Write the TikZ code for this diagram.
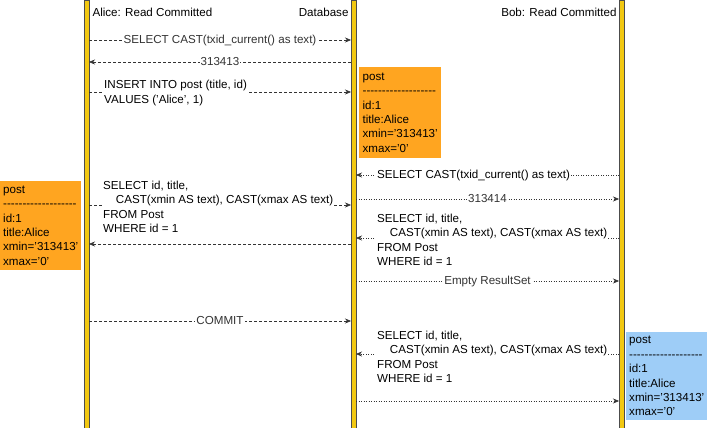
\documentclass[tikz,border=0pt]{standalone}
\usepackage{fontspec}
\setmainfont{Liberation Sans}
\usetikzlibrary{arrows.meta}
\definecolor{life}{HTML}{F2C811}
\definecolor{org}{HTML}{FFA520}
\definecolor{blu}{HTML}{9ECDF7}
\newcommand{\dashes}{-{}-{}-{}-{}-{}-{}-{}-{}-{}-{}-{}-{}-{}-{}-{}-{}-{}-{}-{}}
\newcommand{\sq}{\symbol{39}}
\begin{document}
\begin{tikzpicture}[x=1pt,y=-1pt,font=\fontsize{11.6}{14.4}\selectfont,
 life/.style={draw=black!70,fill=life,line width=0.6pt},
 msg/.style={-{Stealth[length=6pt,width=5pt]},black!80,line width=0.5pt},
 da/.style={msg,dash pattern=on 3pt off 2pt},
 dt/.style={msg,dash pattern=on 1pt off 1.5pt},
 lab/.style={fill=white,inner sep=1pt,align=left},
 note/.style={anchor=north west,align=left,inner sep=3pt,minimum height=0pt}]
\useasboundingbox (0,0) rectangle (707,428);
\fill[life] (84,0) rectangle (89,428);
\fill[life] (351,0) rectangle (356,428);
\fill[life] (619,0) rectangle (624,428);
\node[anchor=west] (ha) at (89,12) {Alice: Read Committed};
\node[anchor=east] (hd) at (352,12) {Database};
\node[anchor=east] (hb) at (620,12) {Bob: Read Committed};
\foreach \n/\y in {1/40,2/62,3/92,4/175,5/199,6/205,7/238,8/244,9/281,10/321,11/354,12/401}{
 \coordinate (A\n) at (89,\y); \coordinate (D\n) at (351,\y);
 \coordinate (Dr\n) at (356,\y); \coordinate (B\n) at (619,\y);}
\draw[da] (A1) -- node[lab] (l1) {SELECT CAST(txid\_current() as text)} (D1);
\draw[da] (D2) -- node[lab] (l2) {313413} (A2);
\draw[da] (A3) -- (D3);
\node[lab,anchor=west] (l3) at (103,93) {INSERT INTO post (title, id)\\VALUES (\sq Alice\sq, 1)};
\node[note,fill=org,minimum width=82pt,minimum height=91pt] (n1) at (359,67) {post\\\dashes\\id:1\\title:Alice\\xmin=\sq 313413\sq\\xmax=\sq 0\sq};
\draw[dt] (B4) -- (Dr4);
\node[lab,anchor=west] (l4) at (376,175) {SELECT CAST(txid\_current() as text)};
\draw[dt] (Dr5) -- node[lab] (l5) {313414} (B5);
\draw[da] (A6) -- (D6);
\node[lab,anchor=west] (l6) at (102,207) {SELECT id, title,\\\hspace*{1.1em}CAST(xmin AS text), CAST(xmax AS text)\\FROM Post\\WHERE id = 1};
\draw[dt] (B7) -- (Dr7);
\node[lab,anchor=west] (l7) at (376,240) {SELECT id, title,\\\hspace*{1.1em}CAST(xmin AS text), CAST(xmax AS text)\\FROM Post\\WHERE id = 1};
\draw[da] (D8) -- (A8);
\node[note,fill=org,minimum width=80pt,minimum height=89pt] (n2) at (0,181) {post\\\dashes\\id:1\\title:Alice\\xmin=\sq 313413\sq\\xmax=\sq 0\sq};
\draw[dt] (Dr9) -- node[lab] (l9) {Empty ResultSet} (B9);
\draw[da] (A10) -- node[lab] (l10) {COMMIT} (D10);
\draw[dt] (B11) -- (Dr11);
\node[lab,anchor=west] (l11) at (376,357) {SELECT id, title,\\\hspace*{1.1em}CAST(xmin AS text), CAST(xmax AS text)\\FROM Post\\WHERE id = 1};
\draw[dt] (Dr12) -- (B12);
\node[note,fill=blu,minimum width=81pt,minimum height=88pt] (n3) at (626,332) {post\\\dashes\\id:1\\title:Alice\\xmin=\sq 313413\sq\\xmax=\sq 0\sq};
\end{tikzpicture}
\end{document}
